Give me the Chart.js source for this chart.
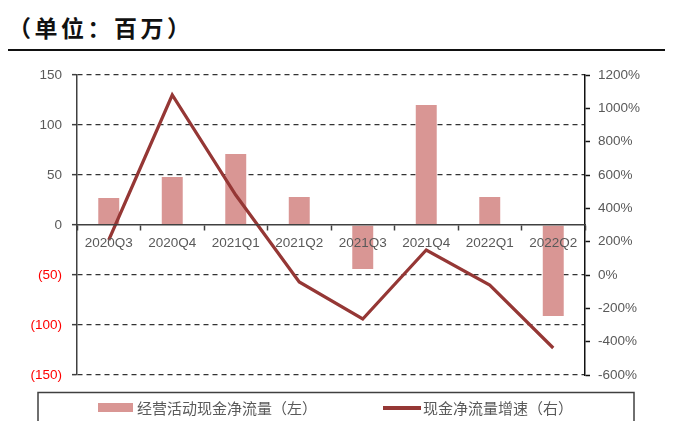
<!DOCTYPE html>
<html>
<head>
<meta charset="utf-8">
<script src="https://cdn.jsdelivr.net/npm/chart.js@4/dist/chart.umd.min.js"></script>
<style>
  body { margin: 0; background: #fff; }
  #wrap { position: relative; width: 675px; height: 421px; overflow: hidden; }
  #title { position: absolute; left: 8px; top: 14px; font: bold 23px/26px "Noto Sans CJK SC", sans-serif; letter-spacing: 3.5px; color: #111; }
  #rule { position: absolute; left: 8px; top: 49px; width: 657px; height: 2px; background: #111; }
  canvas { position: absolute; left: 0; top: 0; }
</style>
</head>
<body>
<div id="wrap">
  <div id="title">（单位：百万）</div>
  <div id="rule"></div>
  <canvas id="c" width="675" height="421"></canvas>
</div>
<script>
// data
const quarters = ['2020Q3', '2020Q4', '2021Q1', '2021Q2', '2021Q3', '2021Q4', '2022Q1', '2022Q2'];
const operatingCashFlow = [27, 48, 71, 28, -44, 120, 28, -91];
const cashFlowGrowth = [210, 1080, 480, -42, -264, 150, -60, -438];

const BAR_COLOR = '#D99694';
const LINE_COLOR = '#953735';
const AXIS_COLOR = '#404040';
const TEXT_COLOR = '#595959';

// legend drawn in a framed box under the plot
const boxLegend = {
  id: 'boxLegend',
  afterDraw(chart) {
    const ctx = chart.ctx;
    const ds = chart.data.datasets;
    ctx.save();
    ctx.strokeStyle = AXIS_COLOR;
    ctx.lineWidth = 1.5;
    ctx.strokeRect(38, 392.5, 596, 40);
    ctx.font = '15px "Noto Sans CJK SC", sans-serif';
    ctx.textBaseline = 'middle';
    ctx.fillStyle = ds[0].backgroundColor;
    ctx.fillRect(98, 403, 35, 9);
    ctx.fillStyle = TEXT_COLOR;
    ctx.fillText(ds[0].label, 137, 408);
    ctx.strokeStyle = ds[1].borderColor;
    ctx.lineWidth = 4;
    ctx.beginPath();
    ctx.moveTo(383, 408);
    ctx.lineTo(421, 408);
    ctx.stroke();
    ctx.fillText(ds[1].label, 423, 408);
    ctx.restore();
  }
};

const ctx = document.getElementById('c');
new Chart(ctx, {
  data: {
    labels: quarters,
    datasets: [{
      type: 'bar',
      label: '经营活动现金净流量（左）',
      data: operatingCashFlow,
      backgroundColor: BAR_COLOR,
      barPercentage: 0.33,
      categoryPercentage: 1,
      yAxisID: 'y',
      order: 1
    }, {
      type: 'line',
      label: '现金净流量增速（右）',
      data: cashFlowGrowth,
      borderColor: LINE_COLOR,
      backgroundColor: LINE_COLOR,
      borderWidth: 3.2,
      pointRadius: 0,
      tension: 0,
      yAxisID: 'y1',
      order: 0
    }]
  },
  options: {
    responsive: false,
    animation: false,
    layout: { padding: { left: 0, right: 0, top: 75, bottom: 46 } },
    plugins: { legend: { display: false }, tooltip: { enabled: false } },
    scales: {
      x: {
        position: { y: 0 },
        offset: true,
        grid: { drawOnChartArea: false, tickLength: 5, tickColor: AXIS_COLOR, tickWidth: 1.5, offset: true, z: 1 },
        border: { color: AXIS_COLOR, width: 1.5, z: 1 },
        ticks: { z: 1, color: TEXT_COLOR, font: { family: 'Liberation Sans', size: 13.5 }, padding: 5, maxRotation: 0 }
      },
      y: {
        position: 'left',
        min: -150,
        max: 150,
        afterFit(scale) { scale.width = 77; },
        grid: {
          color: (c) => c.tick && c.tick.value === 0 ? 'rgba(0,0,0,0)' : '#333',
          lineWidth: 1.3,
          tickLength: 5,
          tickColor: AXIS_COLOR,
          tickWidth: 1.5
        },
        border: { color: AXIS_COLOR, width: 1.5, dash: [5, 4] },
        ticks: {
          stepSize: 50,
          padding: 10,
          font: { family: 'Liberation Sans', size: 13.5 },
          color: (c) => c.tick.value < 0 ? '#FF0000' : TEXT_COLOR,
          callback: (v) => v < 0 ? '(' + (-v) + ')' : String(v)
        }
      },
      y1: {
        position: 'right',
        min: -600,
        max: 1200,
        afterFit(scale) { scale.width = 90; },
        grid: { drawOnChartArea: false, tickLength: 5, tickColor: '#111', tickWidth: 1.5 },
        border: { color: '#111', width: 1.5 },
        ticks: {
          stepSize: 200,
          padding: 8,
          font: { family: 'Liberation Sans', size: 13.5 },
          color: TEXT_COLOR,
          callback: (v) => v + '%'
        }
      }
    }
  },
  plugins: [boxLegend]
});
</script>
</body>
</html>
